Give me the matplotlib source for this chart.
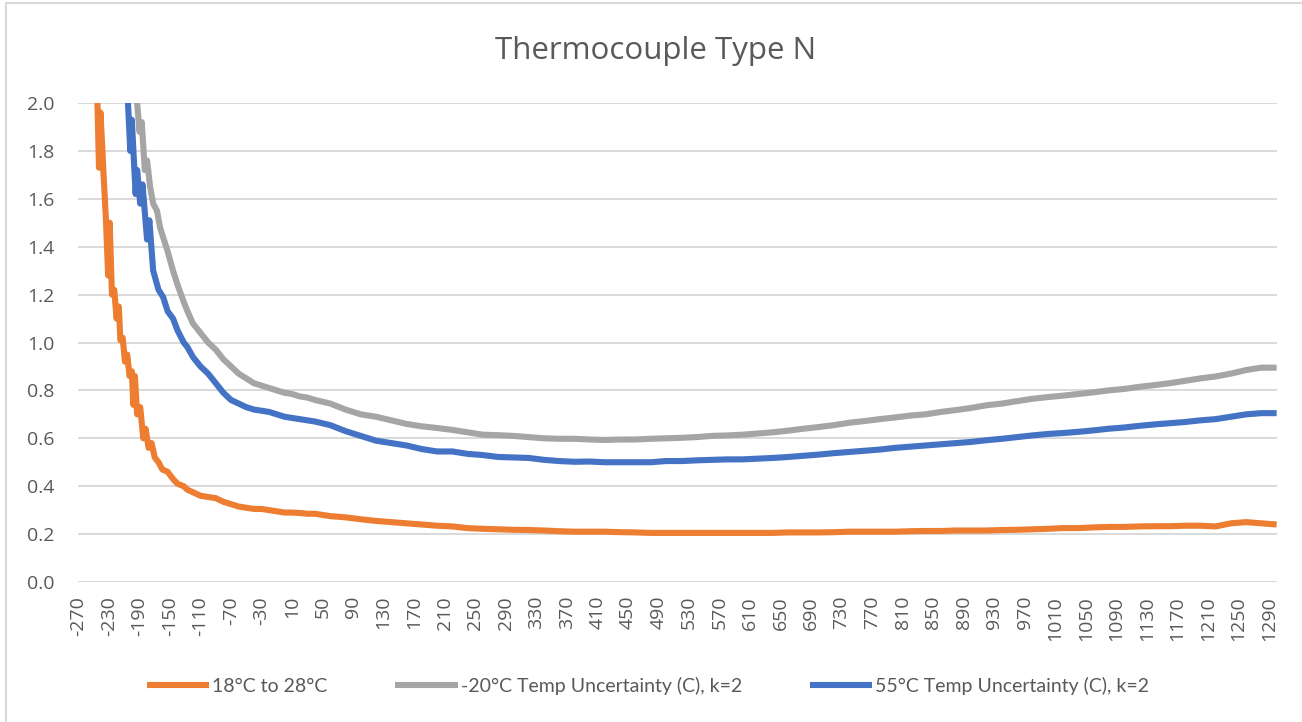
import matplotlib
matplotlib.use("Agg")
import matplotlib.pyplot as plt
from matplotlib.lines import Line2D
import numpy as np

# temperature (C) and expanded uncertainty (C)
orange_head_t = [-250, -245, -243, -241, -237, -234, -231, -229, -226, -223, -220, -217, -215,
                 -212, -209, -206, -203, -200, -198, -196, -193, -189, -185, -182, -178, -174,
                 -170, -165, -160, -153, -146, -140, -132, -127, -120, -110, -100]
orange_head_v = [2.25, 2.00, 1.73, 1.96, 1.70, 1.52, 1.28, 1.50, 1.20, 1.22, 1.10, 1.15, 1.01,
                 1.02, 0.92, 0.95, 0.86, 0.88, 0.74, 0.86, 0.70, 0.73, 0.60, 0.64, 0.56, 0.58,
                 0.52, 0.50, 0.47, 0.46, 0.43, 0.41, 0.40, 0.385, 0.375, 0.36, 0.355]

gray_head_t = [-250, -220, -200, -193, -190, -187, -183, -180, -176, -172, -167, -163, -159,
               -153, -146, -140, -132, -127, -120, -110, -100]
gray_head_v = [3.3, 2.6, 2.15, 2.0, 1.88, 1.92, 1.72, 1.76, 1.65, 1.58, 1.55, 1.48, 1.44,
               1.38, 1.30, 1.24, 1.17, 1.13, 1.08, 1.04, 1.00]

blue_head_t = [-250, -230, -215, -205, -202, -200, -195, -193, -189, -186, -180, -177, -172,
               -165, -159, -153, -146, -140, -132, -127, -120, -110, -100]
blue_head_v = [2.9, 2.5, 2.2, 2.0, 1.80, 1.93, 1.62, 1.72, 1.58, 1.66, 1.43, 1.51, 1.30,
               1.22, 1.19, 1.13, 1.10, 1.05, 1.00, 0.98, 0.94, 0.90, 0.87]

tail_t = list(range(-90, 50, 10)) + list(range(60, 1301, 20))

orange_tail = [0.35, 0.335, 0.325, 0.315, 0.31, 0.305, 0.305, 0.30, 0.295, 0.29, 0.29, 0.288, 0.285, 0.285,
               0.275, 0.27, 0.262, 0.255, 0.25, 0.245, 0.24, 0.235, 0.232, 0.225,
               0.222, 0.22, 0.218, 0.217, 0.215, 0.212, 0.21, 0.21, 0.21, 0.208,
               0.207, 0.205, 0.205, 0.205, 0.205, 0.205, 0.205, 0.205, 0.205, 0.205,
               0.207, 0.207, 0.207, 0.208, 0.21, 0.21, 0.21, 0.21, 0.212, 0.213,
               0.213, 0.215, 0.215, 0.215, 0.217, 0.218, 0.22, 0.222, 0.225, 0.225,
               0.228, 0.23, 0.23, 0.232, 0.233, 0.233, 0.235, 0.235, 0.232, 0.245,
               0.25, 0.245, 0.24]

gray_tail = [0.97, 0.93, 0.90, 0.87, 0.85, 0.83, 0.82, 0.81, 0.80, 0.79, 0.785, 0.775, 0.77, 0.76,
             0.745, 0.72, 0.70, 0.69, 0.675, 0.66, 0.65, 0.643, 0.635, 0.625,
             0.615, 0.613, 0.61, 0.605, 0.60, 0.598, 0.598, 0.595, 0.593, 0.595,
             0.595, 0.598, 0.60, 0.602, 0.605, 0.61, 0.612, 0.615, 0.62, 0.625,
             0.632, 0.64, 0.647, 0.655, 0.665, 0.672, 0.68, 0.687, 0.695, 0.70,
             0.71, 0.718, 0.727, 0.738, 0.745, 0.755, 0.765, 0.772, 0.778, 0.785,
             0.792, 0.80, 0.806, 0.815, 0.822, 0.83, 0.84, 0.85, 0.858, 0.87,
             0.885, 0.895, 0.895]

blue_tail = [0.83, 0.79, 0.76, 0.745, 0.73, 0.72, 0.715, 0.71, 0.70, 0.69, 0.685, 0.68, 0.675, 0.67,
             0.655, 0.63, 0.61, 0.59, 0.58, 0.57, 0.555, 0.545, 0.545, 0.535,
             0.53, 0.522, 0.52, 0.518, 0.51, 0.505, 0.502, 0.503, 0.50, 0.50,
             0.50, 0.50, 0.505, 0.505, 0.508, 0.51, 0.512, 0.512, 0.515, 0.518,
             0.522, 0.527, 0.532, 0.538, 0.543, 0.548, 0.553, 0.56, 0.565, 0.57,
             0.575, 0.58, 0.585, 0.592, 0.598, 0.605, 0.612, 0.618, 0.622, 0.627,
             0.633, 0.64, 0.645, 0.652, 0.658, 0.663, 0.668, 0.675, 0.68, 0.69,
             0.70, 0.705, 0.705]

labels = ["18°C to 28°C", "-20°C Temp Uncertainty (C), k=2", "55°C Temp Uncertainty (C), k=2"]
colors = ["#ED7D31", "#A5A5A5", "#4472C4"]
tick_temps = list(range(-270, 1291, 40))

series = [
    (orange_head_t + tail_t, orange_head_v + orange_tail),
    (gray_head_t + tail_t, gray_head_v + gray_tail),
    (blue_head_t + tail_t, blue_head_v + blue_tail),
]

txt = "#595959"
fig = plt.figure(figsize=(13.02, 7.22), dpi=100)
ax = fig.add_axes([78 / 1302, 1 - 582 / 722, 1199 / 1302, 479 / 722])

for (t, v), lab, c in zip(series, labels, colors):
    ax.plot(t, v, color=c, lw=4.4, label=lab, solid_joinstyle="round", solid_capstyle="butt")

ax.set_xlim(-270.5, 1300.5)
ax.set_ylim(0, 2.0)
ax.set_yticks(np.arange(0, 2.01, 0.2))
ax.set_yticklabels([f"{y:.1f}" for y in np.arange(0, 2.01, 0.2)])
ax.set_xticks(tick_temps)
ax.set_xticklabels([str(t) for t in tick_temps], rotation=90)
ax.tick_params(axis="both", length=0, colors=txt, labelsize=14)
ax.tick_params(axis="y", pad=17)
ax.tick_params(axis="x", pad=10)
for lbl in ax.get_xticklabels() + ax.get_yticklabels():
    lbl.set_family(["Open Sans", "DejaVu Sans"])
ax.grid(axis="y", color="#d9d9d9", lw=1.4)
ax.set_axisbelow(True)
for s in ax.spines.values():
    s.set_visible(False)

fig.text(656 / 1302, 1 - 51 / 722, "Thermocouple Type N", ha="center", va="center",
         fontsize=22.5, color=txt, family=["Open Sans", "DejaVu Sans"])

leg = fig.legend(loc="center", bbox_to_anchor=(648 / 1302, 1 - 686 / 722), ncol=3, frameon=False,
                 handlelength=3.2, handletextpad=0.15, columnspacing=3.5,
                 prop={"family": ["Lato", "DejaVu Sans"], "size": 14})
for t in leg.get_texts():
    t.set_color(txt)

# chart border (left and top edge visible)
fig.add_artist(Line2D([6 / 1302, 6 / 1302], [0, 1 - 3 / 722], color="#d9d9d9", lw=1.5))
fig.add_artist(Line2D([6 / 1302, 1], [1 - 3 / 722, 1 - 3 / 722], color="#d9d9d9", lw=1.5))

fig.savefig("out.png", dpi=100)
